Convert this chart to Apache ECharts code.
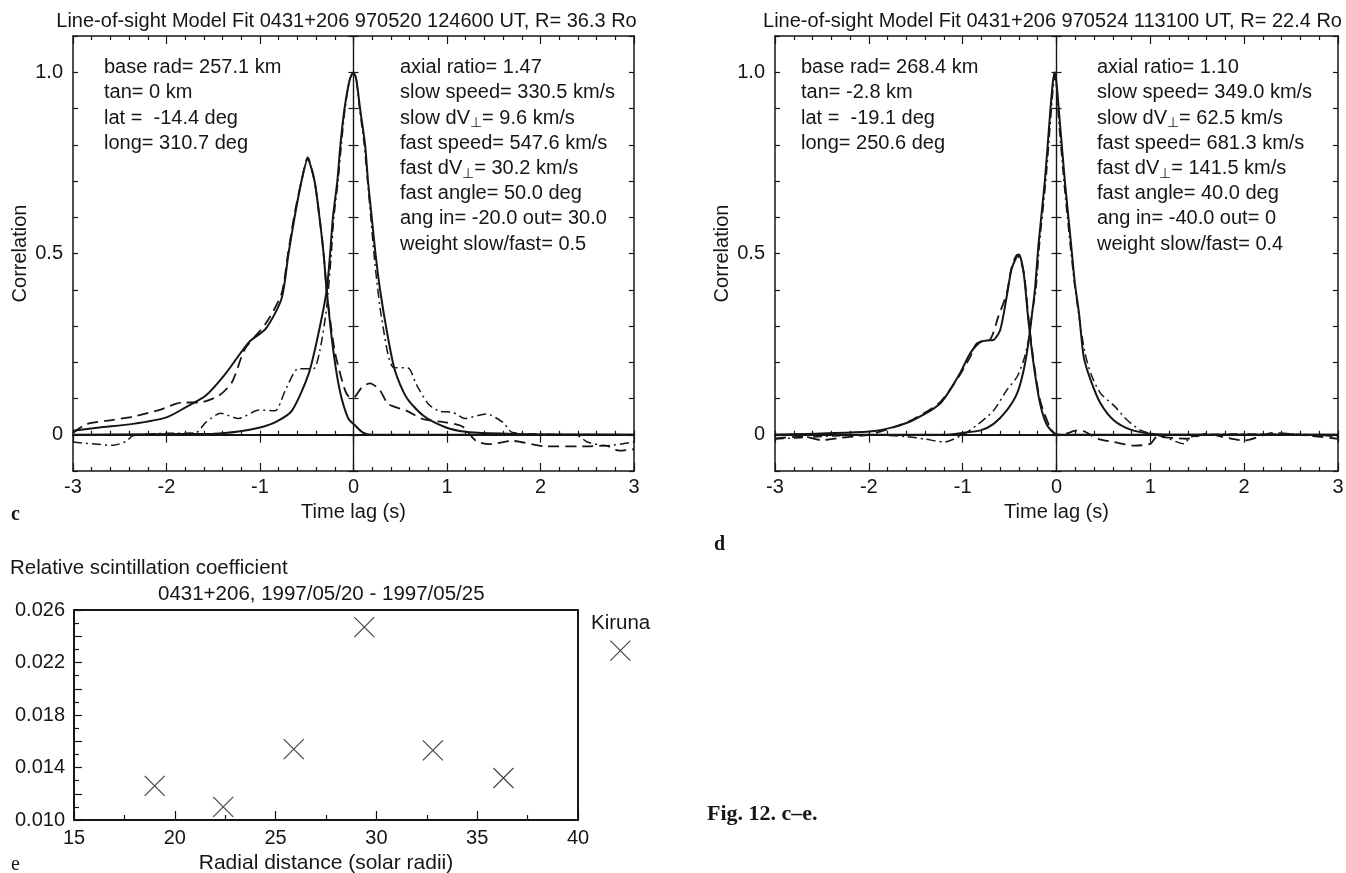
<!DOCTYPE html>
<html>
<head>
<meta charset="utf-8">
<title>Fig. 12 c-e</title>
<script src="https://cdn.jsdelivr.net/npm/echarts@6/dist/echarts.min.js"></script>
<style>
    html, body { margin: 0; padding: 0; background: #fff; }
    #main { width: 1346px; height: 873px; }
</style>
</head>
<body>
<div id="main"></div>
<script>
// panel c: [time lag, correlation]
var cSlowModel = [[-3, 0.011], [-2.72, 0.02], [-2.36, 0.03], [-2, 0.048], [-1.8, 0.075], [-1.58, 0.108], [-1.37, 0.168], [-1.12, 0.255], [-0.94, 0.292], [-0.77, 0.375], [-0.695, 0.5], [-0.63, 0.6], [-0.556, 0.7], [-0.49, 0.76], [-0.417, 0.7], [-0.364, 0.6], [-0.32, 0.5], [-0.287, 0.398], [-0.216, 0.232], [-0.145, 0.12], [-0.057, 0.045], [0, 0.03], [0.1, 0.006], [0.2, 0], [3, 0]];
var cSlowObs = [[-3, 0.005], [-2.85, 0.03], [-2.57, 0.041], [-2.36, 0.05], [-2.08, 0.068], [-1.83, 0.089], [-1.65, 0.089], [-1.44, 0.108], [-1.3, 0.145], [-1.16, 0.237], [-0.94, 0.306], [-0.77, 0.389], [-0.7, 0.5], [-0.63, 0.61], [-0.556, 0.7], [-0.49, 0.765], [-0.417, 0.7], [-0.364, 0.6], [-0.32, 0.5], [-0.28, 0.38], [-0.2, 0.23], [-0.1, 0.13], [-0.05, 0.105], [0, 0.103], [0.09, 0.131], [0.177, 0.142], [0.284, 0.122], [0.37, 0.085], [0.57, 0.066], [0.745, 0.043], [0.99, 0.034], [1.17, 0.022], [1.31, -0.017], [1.45, -0.026], [1.7, -0.017], [2.05, -0.032], [2.45, -0.032], [2.7, -0.03], [2.84, -0.044], [3, -0.04]];
var cFastModel = [[-3, 0], [-1.5, 0.003], [-1.23, 0.009], [-1, 0.02], [-0.84, 0.034], [-0.66, 0.066], [-0.48, 0.168], [-0.376, 0.278], [-0.287, 0.398], [-0.25, 0.5], [-0.22, 0.6], [-0.173, 0.7], [-0.14, 0.8], [-0.096, 0.9], [-0.04, 0.98], [0, 1], [0.03, 0.98], [0.07, 0.9], [0.124, 0.8], [0.155, 0.7], [0.195, 0.6], [0.235, 0.5], [0.284, 0.4], [0.355, 0.288], [0.443, 0.177], [0.567, 0.103], [0.745, 0.053], [0.99, 0.02], [1.2, 0.008], [1.45, 0.004], [2, 0.001], [3, 0]];
var cFastObs = [[-3, -0.02], [-2.57, -0.029], [-2.43, -0.018], [-2.36, -0.003], [-2, 0.004], [-1.69, 0.005], [-1.58, 0.034], [-1.42, 0.059], [-1.23, 0.045], [-1.01, 0.068], [-0.84, 0.066], [-0.73, 0.122], [-0.59, 0.182], [-0.43, 0.182], [-0.36, 0.232], [-0.287, 0.352], [-0.24, 0.49], [-0.21, 0.6], [-0.165, 0.7], [-0.13, 0.8], [-0.09, 0.9], [-0.04, 0.98], [0, 1], [0.03, 0.98], [0.065, 0.9], [0.115, 0.8], [0.15, 0.7], [0.185, 0.6], [0.23, 0.47], [0.3, 0.324], [0.425, 0.186], [0.585, 0.184], [0.67, 0.14], [0.8, 0.085], [0.92, 0.065], [1.06, 0.062], [1.19, 0.045], [1.42, 0.057], [1.6, 0.034], [1.7, 0.006], [2, 0.002], [2.4, -0.003], [2.5, -0.02], [2.7, -0.03], [3, -0.02]];

// panel d: [time lag, correlation]
var dSlowModel = [[-3, 0], [-1.99, 0.009], [-1.74, 0.021], [-1.53, 0.04], [-1.24, 0.086], [-1.03, 0.169], [-0.92, 0.225], [-0.81, 0.257], [-0.74, 0.26], [-0.67, 0.262], [-0.6, 0.289], [-0.53, 0.382], [-0.48, 0.456], [-0.42, 0.493], [-0.4, 0.497], [-0.35, 0.446], [-0.3, 0.317], [-0.245, 0.197], [-0.175, 0.086], [-0.1, 0.026], [0, 0.001], [0.1, 0], [3, 0]];
var dSlowObs = [[-3, -0.01], [-2.7, -0.005], [-2.5, -0.015], [-2.3, -0.008], [-2, 0], [-1.74, 0.02], [-1.53, 0.042], [-1.24, 0.09], [-1.03, 0.165], [-0.92, 0.215], [-0.85, 0.252], [-0.71, 0.262], [-0.62, 0.326], [-0.53, 0.39], [-0.48, 0.46], [-0.42, 0.497], [-0.35, 0.45], [-0.3, 0.325], [-0.245, 0.205], [-0.175, 0.095], [-0.07, 0.021], [0, 0], [0.1, 0.003], [0.22, 0.012], [0.3, 0.009], [0.44, -0.011], [0.61, -0.02], [0.83, -0.03], [1, -0.025], [1.07, -0.006], [1.39, -0.011], [1.6, 0.003], [1.78, -0.006], [2, -0.016], [2.31, 0.005], [2.67, -0.002], [3, -0.011]];
var dFastModel = [[-3, 0], [-1.2, 0], [-1, 0.005], [-0.81, 0.012], [-0.67, 0.03], [-0.53, 0.067], [-0.42, 0.114], [-0.35, 0.178], [-0.3, 0.252], [-0.26, 0.335], [-0.23, 0.4], [-0.19, 0.53], [-0.125, 0.697], [-0.07, 0.88], [-0.04, 0.97], [-0.02, 1], [0, 0.97], [0.03, 0.88], [0.09, 0.697], [0.15, 0.54], [0.195, 0.42], [0.24, 0.335], [0.29, 0.215], [0.365, 0.15], [0.47, 0.086], [0.61, 0.04], [0.79, 0.014], [1, 0.003], [1.3, 0], [3, 0]];
var dFastObs = [[-3, -0.012], [-2.5, -0.005], [-2, 0], [-1.6, -0.005], [-1.4, -0.012], [-1.2, -0.02], [-1, 0], [-0.85, 0.026], [-0.67, 0.067], [-0.53, 0.123], [-0.42, 0.16], [-0.35, 0.206], [-0.3, 0.26], [-0.26, 0.335], [-0.22, 0.4], [-0.18, 0.53], [-0.115, 0.697], [-0.06, 0.88], [-0.035, 0.96], [-0.02, 0.99], [0, 0.96], [0.02, 0.88], [0.08, 0.697], [0.14, 0.54], [0.19, 0.42], [0.235, 0.335], [0.3, 0.23], [0.365, 0.169], [0.47, 0.114], [0.61, 0.081], [0.755, 0.04], [0.9, 0.012], [1.04, 0.001], [1.15, -0.006], [1.36, -0.025], [1.43, -0.006], [1.8, 0.002], [2.5, 0.002], [3, -0.005]];

// panel e: [radial distance, coefficient]
var scintPoints = [[19, 0.0126], [22.4, 0.0110], [25.9, 0.0154], [29.4, 0.0247], [32.8, 0.0153], [36.3, 0.0132], [42.1, 0.0229]];

var titleC = "Line-of-sight Model Fit 0431+206 970520 124600 UT, R= 36.3 Ro";
var titleD = "Line-of-sight Model Fit 0431+206 970524 113100 UT, R= 22.4 Ro";
var notesLeftC = ["base rad= 257.1 km", "tan= 0 km", "lat =  -14.4 deg", "long= 310.7 deg"];
var notesRightC = ["axial ratio= 1.47", "slow speed= 330.5 km/s", "slow dV{s|⊥}= 9.6 km/s", "fast speed= 547.6 km/s", "fast dV{s|⊥}= 30.2 km/s", "fast angle= 50.0 deg", "ang in= -20.0 out= 30.0", "weight slow/fast= 0.5"];
var notesLeftD = ["base rad= 268.4 km", "tan= -2.8 km", "lat =  -19.1 deg", "long= 250.6 deg"];
var notesRightD = ["axial ratio= 1.10", "slow speed= 349.0 km/s", "slow dV{s|⊥}= 62.5 km/s", "fast speed= 681.3 km/s", "fast dV{s|⊥}= 141.5 km/s", "fast angle= 40.0 deg", "ang in= -40.0 out= 0", "weight slow/fast= 0.4"];

var INK = "#161616";
var FONT = '"Liberation Sans", Arial, sans-serif';
var SERIF = '"Liberation Serif", serif';

var option = {
    backgroundColor: "#fff",
    animation: false,
    title: [],
    grid: [],
    xAxis: [],
    yAxis: [],
    series: [],
    graphic: []
};

function corrLabel(v) {
    if (Math.abs(v) < 1e-6) return "0";
    if (Math.abs(v - 0.5) < 1e-6) return "0.5";
    if (Math.abs(v - 1) < 1e-6) return "1.0";
    return "";
}

function lineOf(w) {
    return { show: true, onZero: false, lineStyle: { color: INK, width: w } };
}

function extend(a, b) {
    for (var k in b) a[k] = b[k];
    return a;
}

// x and y axis of one grid, with only the differences passed in
function timeAxis(g, extra) {
    return extend({
        type: "value", gridIndex: g, min: -3, max: 3, interval: 1,
        splitLine: { show: false },
        axisLabel: { show: false },
        axisLine: lineOf(1.5),
        axisTick: { show: true, inside: true, length: 8, lineStyle: { color: INK, width: 1.2 } },
        minorTick: { show: true, splitNumber: 5, length: 4, lineStyle: { color: INK, width: 1.2 } }
    }, extra);
}
function corrAxis(g, extra) {
    return extend({
        type: "value", gridIndex: g, min: -0.1, max: 1.1, interval: 0.1,
        splitLine: { show: false },
        axisLabel: { show: false },
        axisLine: lineOf(1.5),
        axisTick: { show: true, inside: true, length: 5, lineStyle: { color: INK, width: 1.2 } }
    }, extra);
}

function notes(lines, x, y) {
    option.graphic.push({
        type: "text", left: x, top: y, silent: true,
        style: {
            text: lines.join("\n"), fill: INK, font: "20px " + FONT, lineHeight: 25.2,
            rich: { s: { font: "14px " + FONT, fill: INK, verticalAlign: "bottom", padding: [6, 0, 0, 0], lineHeight: 25.2 } }
        }
    });
}

function corrPanel(o) {
    var rect = o.rect;
    var g0 = option.grid.length;
    var x0 = option.xAxis.length;
    var y0 = option.yAxis.length;
    // box, zero lines with ticks upward, zero lines with ticks downward
    for (var i = 0; i < 3; i++) {
        option.grid.push({ left: rect[0], top: rect[1], width: rect[2], height: rect[3], outerBoundsMode: "none" });
    }
    option.xAxis.push(timeAxis(g0, {
        position: "bottom",
        axisLabel: { show: true, color: INK, fontFamily: FONT, fontSize: 20, margin: 6 },
        name: "Time lag (s)", nameLocation: "middle", nameGap: 31,
        nameTextStyle: { color: INK, fontFamily: FONT, fontSize: 20 }
    }));
    option.yAxis.push(corrAxis(g0, {
        position: "left",
        axisLabel: { show: true, color: INK, fontFamily: FONT, fontSize: 20, margin: 10, formatter: corrLabel },
        name: "Correlation", nameLocation: "middle", nameGap: 43,
        nameTextStyle: { color: INK, fontFamily: FONT, fontSize: 20 }
    }));
    option.xAxis.push(timeAxis(g0, { position: "top" }));
    option.yAxis.push(corrAxis(g0, { position: "right" }));

    option.xAxis.push(timeAxis(g0 + 1, {
        axisLine: { show: true, onZero: true, lineStyle: { color: INK, width: 2 } },
        axisTick: { show: true, inside: true, length: 4, lineStyle: { color: INK, width: 1.2 } }
    }));
    option.yAxis.push(corrAxis(g0 + 1, {
        axisLine: { show: true, onZero: true, lineStyle: { color: INK, width: 1.2 } }
    }));
    option.xAxis.push(timeAxis(g0 + 2, {
        axisLine: { show: true, onZero: true, lineStyle: { color: INK, width: 2 } },
        axisTick: { show: true, inside: false, length: 8, lineStyle: { color: INK, width: 1.2 } },
        minorTick: { show: false }
    }));
    option.yAxis.push(corrAxis(g0 + 2, {
        axisLine: { show: true, onZero: true, lineStyle: { color: INK, width: 1.2 } },
        axisTick: { show: true, inside: false, length: 5, lineStyle: { color: INK, width: 1.2 } }
    }));

    function line(data, width, type) {
        option.series.push({
            type: "line", xAxisIndex: x0, yAxisIndex: y0, data: data,
            showSymbol: false, symbol: "none", smooth: 0.25, z: 5,
            lineStyle: { color: INK, width: width, type: type }
        });
    }
    line(o.slowObs, 1.8, [11, 6]);
    line(o.fastObs, 1.5, [9, 4, 2, 4]);
    line(o.slowModel, 2, "solid");
    line(o.fastModel, 2, "solid");

    option.title.push({
        text: o.title, left: rect[0] + rect[2] / 2 + o.titleShift, top: 6, textAlign: "center",
        textStyle: { color: INK, fontFamily: FONT, fontSize: 20, fontWeight: "normal" }
    });
    notes(o.left, rect[0] + o.noteLeft, 55);
    notes(o.right, rect[0] + o.noteRight, 55);
}

corrPanel({
    rect: [73, 36, 561, 435], title: titleC, titleShift: -12,
    slowObs: cSlowObs, fastObs: cFastObs, slowModel: cSlowModel, fastModel: cFastModel,
    left: notesLeftC, right: notesRightC, noteLeft: 31, noteRight: 327
});
corrPanel({
    rect: [775, 36, 563, 435], title: titleD, titleShift: -9,
    slowObs: dSlowObs, fastObs: dFastObs, slowModel: dSlowModel, fastModel: dFastModel,
    left: notesLeftD, right: notesRightD, noteLeft: 26, noteRight: 322
});

// panel e
var gE = option.grid.length;
var xE = option.xAxis.length;
var yE = option.yAxis.length;
option.grid.push({ left: 74, top: 610, width: 504, height: 210, outerBoundsMode: "none" });
option.xAxis.push({
    type: "value", gridIndex: gE, min: 15, max: 40, interval: 5, position: "bottom",
    splitLine: { show: false },
    axisLine: lineOf(2),
    axisTick: { show: true, inside: true, length: 9, lineStyle: { color: INK, width: 1.2 } },
    minorTick: { show: true, splitNumber: 2, length: 5, lineStyle: { color: INK, width: 1.2 } },
    axisLabel: { color: INK, fontFamily: FONT, fontSize: 20, margin: 8 },
    name: "Radial distance (solar radii)", nameLocation: "middle", nameGap: 33,
    nameTextStyle: { color: INK, fontFamily: FONT, fontSize: 21 }
});
option.yAxis.push({
    type: "value", gridIndex: gE, min: 0.01, max: 0.026, interval: 0.002, position: "left",
    splitLine: { show: false },
    axisLine: lineOf(2),
    axisTick: { show: true, inside: true, length: 8, lineStyle: { color: INK, width: 1.2 } },
    minorTick: { show: true, splitNumber: 2, length: 5, lineStyle: { color: INK, width: 1.2 } },
    axisLabel: {
        color: INK, fontFamily: FONT, fontSize: 20, margin: 9,
        formatter: function (v) {
            return Math.round(v * 1000) % 4 === 2 ? v.toFixed(3) : "";
        }
    }
});
option.xAxis.push({
    type: "value", gridIndex: gE, min: 15, max: 40, position: "top", splitLine: { show: false },
    axisLine: lineOf(2), axisTick: { show: false }, axisLabel: { show: false }
});
option.yAxis.push({
    type: "value", gridIndex: gE, min: 0.01, max: 0.026, position: "right", splitLine: { show: false },
    axisLine: lineOf(2), axisTick: { show: false }, axisLabel: { show: false }
});
option.series.push({
    type: "scatter", xAxisIndex: xE, yAxisIndex: yE, data: scintPoints, clip: false, z: 6,
    symbol: "path://M0 0L10 10M10 0L0 10", symbolSize: 20,
    itemStyle: { color: "none", borderColor: INK, borderWidth: 1.2 }
});

function label(text, x, y, font) {
    option.graphic.push({
        type: "text", left: x, top: y, silent: true,
        style: { text: text, fill: INK, font: font }
    });
}
label("Relative scintillation coefficient", 10, 558, "20.5px " + FONT);
label("0431+206, 1997/05/20 - 1997/05/25", 158, 584, "20.5px " + FONT);
label("Kiruna", 591, 613, "20.5px " + FONT);
label("c", 11, 505, "bold 20px " + SERIF);
label("d", 714, 535, "bold 20px " + SERIF);
label("e", 11, 855, "20px " + SERIF);
label("Fig. 12. c\u2013e.", 707, 803, "bold 22px " + SERIF);

var myChart = echarts.init(document.getElementById("main"), null, { renderer: "canvas" });
myChart.setOption(option);
</script>
</body>
</html>
